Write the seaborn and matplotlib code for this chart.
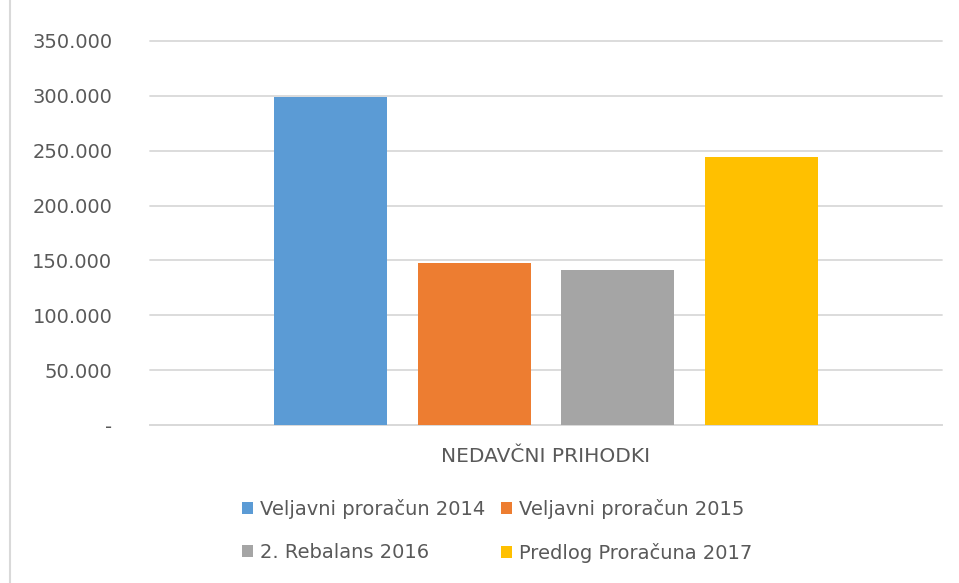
# Budget chart: non-tax revenue by budget version
import pandas as pd
import seaborn as sns
import matplotlib.pyplot as plt
import matplotlib.lines as mlines
from matplotlib.ticker import FuncFormatter

# Data
category = ["NEDAVČNI PRIHODKI"]
series = ["Veljavni proračun 2014", "Veljavni proračun 2015",
          "2. Rebalans 2016", "Predlog Proračuna 2017"]
values = [299200, 147400, 141000, 244000]
colors = ["#5B9BD5", "#ED7D31", "#A5A5A5", "#FFC000"]
y_ticks = [0, 50000, 100000, 150000, 200000, 250000, 300000, 350000]

df = pd.DataFrame({"Category": category * len(series),
                   "Series": series,
                   "Value": values})

# Style
sns.set_style("white")
plt.rcParams["font.family"] = ["DejaVu Sans"]
text_color = "#595959"
grid_color = "#D9D9D9"

fig = plt.figure(figsize=(9.59, 5.83), dpi=100)
ax = fig.add_axes([150 / 959, 1 - 425 / 583, 792 / 959, 384 / 583])

sns.barplot(data=df, x="Category", y="Value", hue="Series",
            hue_order=series, palette=colors, saturation=1,
            width=0.725, gap=0.21, linewidth=0, ax=ax, zorder=3)

# Axes details
ax.set_ylim(0, 350000)
ax.set_xlim(-0.5, 0.5)
ax.set_yticks(y_ticks)


def thousands(v, pos):
    if v == 0:
        return "-"
    return f"{int(v):,}".replace(",", ".")


ax.yaxis.set_major_formatter(FuncFormatter(thousands))
ax.grid(axis="y", color=grid_color, linewidth=1.3, zorder=0)
for gl in ax.get_ygridlines():
    gl.set_clip_on(False)
ax.set_axisbelow(True)
for side in ["left", "right", "top"]:
    ax.spines[side].set_visible(False)
ax.spines["bottom"].set_color(grid_color)
ax.spines["bottom"].set_linewidth(1.3)
ax.tick_params(axis="y", length=0, pad=27, labelsize=14,
               labelcolor=text_color)
ax.tick_params(axis="x", length=0, pad=16, labelsize=14.5,
               labelcolor=text_color)
ax.set_xlabel("")
ax.set_ylabel("")

# Legend: row-wise order in two columns
handles, labels = ax.get_legend_handles_labels()
ax.get_legend().remove()
order = [0, 2, 1, 3]
fig.legend([handles[i] for i in order], [labels[i] for i in order],
           ncol=2, loc="center", bbox_to_anchor=(497 / 959, 1 - 531 / 583),
           frameon=False, fontsize=14, labelcolor=text_color,
           handlelength=0.6, handleheight=0.6, handletextpad=0.35,
           columnspacing=0.8, labelspacing=1.25)

# Chart frame edge on the left
fig.add_artist(mlines.Line2D([10 / 959, 10 / 959], [0, 1],
                             color=grid_color, linewidth=1.5))

fig.savefig("out.png", dpi=100)
